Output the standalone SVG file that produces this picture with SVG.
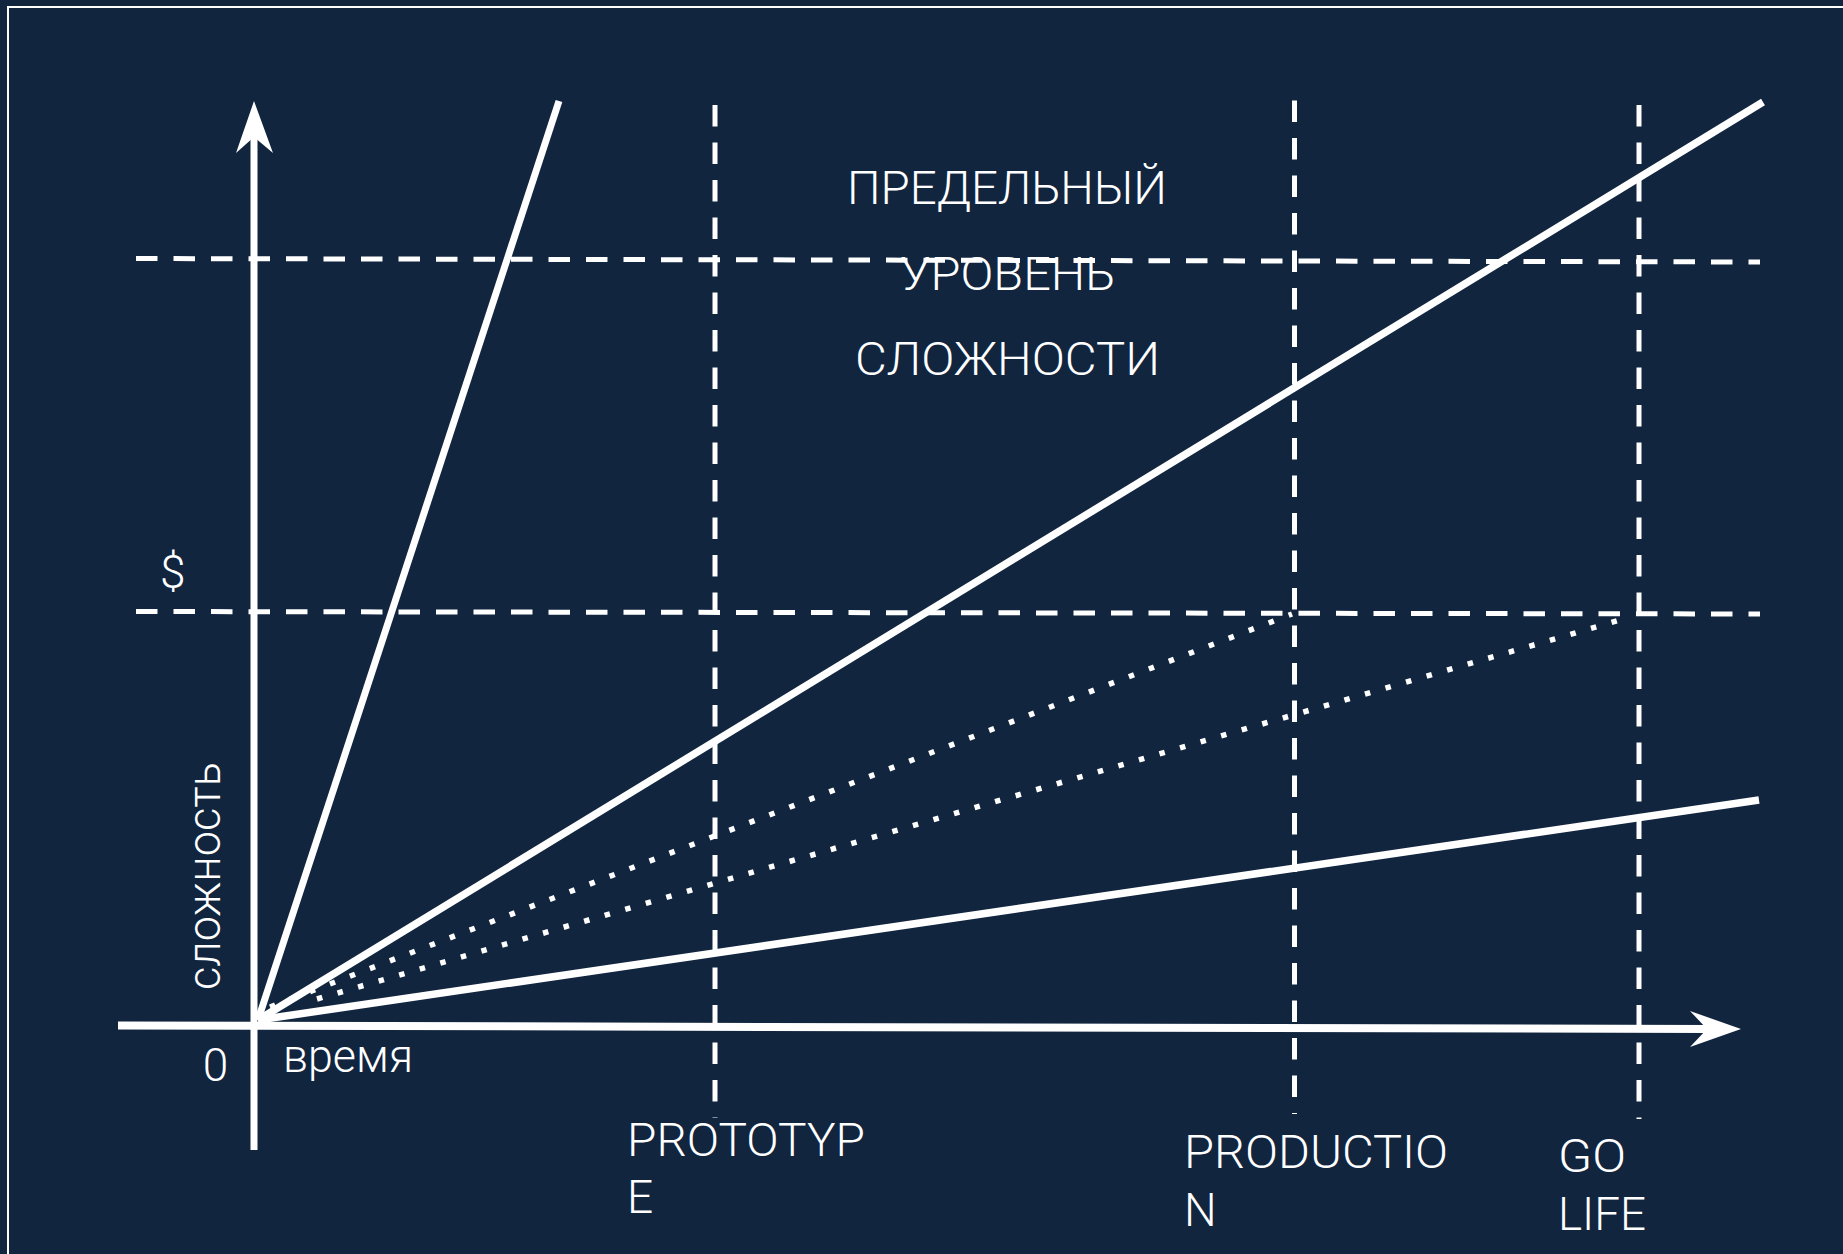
<svg xmlns="http://www.w3.org/2000/svg" width="1843" height="1254" viewBox="0 0 1843 1254">
  <style>
    .bg { fill: #11253f; }
    .frame { fill: none; stroke: #ffffff; stroke-width: 2; }
    .solid { stroke: #ffffff; fill: none; stroke-linecap: butt; }
    .dash { stroke: #ffffff; stroke-width: 5; stroke-dasharray: 21.5 16; fill: none; }
    .dot { stroke: #ffffff; stroke-width: 5.5; stroke-dasharray: 5.5 15.9; fill: none; }
    .head { fill: #ffffff; }
    .lbl { fill: #ffffff; font-family: "Roboto", "Liberation Sans", "DejaVu Sans", sans-serif; font-weight: 300; font-size: 46px; }
  </style>

  <rect class="bg" x="0" y="0" width="1843" height="1254"/>
  <rect class="frame" x="8" y="7" width="1850" height="1260"/>

  <g id="guides">
    <line class="dash" x1="136" y1="258.5" x2="1760" y2="262"/>
    <line class="dash" x1="136" y1="611.5" x2="1760" y2="614"/>
    <line class="dash" x1="715" y1="105" x2="715" y2="1118"/>
    <line class="dash" x1="1294.5" y1="100.5" x2="1294.5" y2="1114"/>
    <line class="dash" x1="1639" y1="105" x2="1639" y2="1119"/>
  </g>

  <g id="axes">
    <line class="solid" x1="254" y1="1150" x2="254" y2="135" stroke-width="7"/>
    <polygon class="head" points="254,101 273,153 254,137 236,153"/>
    <line class="solid" x1="118" y1="1025.5" x2="1712" y2="1029" stroke-width="8"/>
    <polygon class="head" points="1741,1029 1690,1047 1707,1029 1690,1011"/>
  </g>

  <g id="connectors">
    <line class="solid" x1="258" y1="1020" x2="559" y2="101" stroke-width="7"/>
    <line class="solid" x1="258" y1="1020" x2="1763" y2="102" stroke-width="7.5"/>
    <line class="solid" x1="258" y1="1020" x2="1759" y2="800" stroke-width="7.5"/>
    <line class="dot" x1="270" y1="1007" x2="1292" y2="614"/>
    <line class="dot" x1="317" y1="999" x2="1630" y2="617"/>
  </g>

  <g id="title">
    <text class="lbl" x="847" y="204" textLength="320" lengthAdjust="spacingAndGlyphs">ПРЕДЕЛЬНЫЙ</text>
    <text class="lbl" x="900" y="290" textLength="215" lengthAdjust="spacingAndGlyphs">УРОВЕНЬ</text>
    <text class="lbl" x="855" y="375" textLength="305" lengthAdjust="spacingAndGlyphs">СЛОЖНОСТИ</text>
  </g>

  <g id="axis-labels">
    <text class="lbl" x="160" y="588">$</text>
    <text class="lbl" transform="translate(220,990) rotate(-90)" x="0" y="0" textLength="228" lengthAdjust="spacingAndGlyphs">сложность</text>
    <text class="lbl" x="215.5" y="1081" text-anchor="middle">0</text>
    <text class="lbl" x="283" y="1072" textLength="130" lengthAdjust="spacingAndGlyphs">время</text>
  </g>

  <g id="milestone-prototype">
    <text class="lbl" x="627" y="1156" textLength="238" lengthAdjust="spacingAndGlyphs">PROTOTYP</text>
    <text class="lbl" x="627" y="1213">E</text>
  </g>
  <g id="milestone-production">
    <text class="lbl" x="1184" y="1168" textLength="264" lengthAdjust="spacingAndGlyphs">PRODUCTIO</text>
    <text class="lbl" x="1184" y="1226">N</text>
  </g>
  <g id="milestone-golife">
    <text class="lbl" x="1558" y="1172" textLength="68" lengthAdjust="spacingAndGlyphs">GO</text>
    <text class="lbl" x="1558" y="1230" textLength="88" lengthAdjust="spacingAndGlyphs">LIFE</text>
  </g>
</svg>
